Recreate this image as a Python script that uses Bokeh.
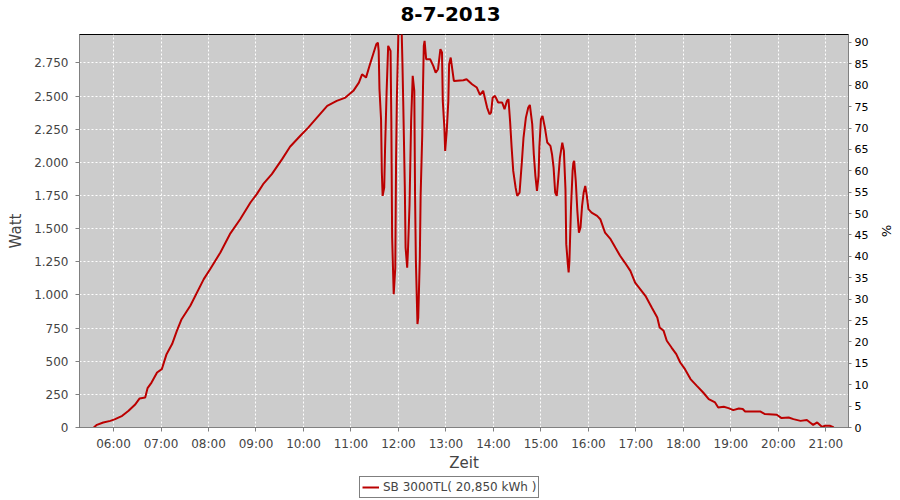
from bokeh.plotting import figure
from bokeh.models import Range1d, LinearAxis, FixedTicker, Legend, LegendItem, Label
from bokeh.layouts import column
from bokeh.embed import file_html
from bokeh.resources import INLINE

title_text = "8-7-2013"
series_name = "SB 3000TL( 20,850 kWh )"

times = ["05:35", "05:39", "05:47", "05:56", "06:02", "06:11", "06:19", "06:27", "06:33", "06:40",
         "06:43", "06:48", "06:55", "07:01", "07:07", "07:14", "07:20", "07:26", "07:37", "07:54",
         "08:02", "08:15", "08:27", "08:40", "08:53", "09:01", "09:09", "09:20", "09:33", "09:43",
         "09:56", "10:06", "10:17", "10:30", "10:42", "10:53", "11:03", "11:10", "11:14", "11:19",
         "11:24", "11:28", "11:32", "11:34", "11:35", "11:36", "11:38", "11:39", "11:40", "11:42",
         "11:43", "11:45", "11:47", "11:50", "11:51", "11:52", "11:54", "11:56", "11:57", "11:58",
         "12:00", "12:04", "12:05", "12:06", "12:08", "12:09", "12:11", "12:12", "12:14", "12:16",
         "12:18", "12:20", "12:21", "12:22", "12:24", "12:25", "12:27", "12:28", "12:30", "12:31",
         "12:32", "12:33", "12:35", "12:40", "12:44", "12:47", "12:50", "12:53", "12:55", "12:56",
         "12:58", "12:59", "13:01", "13:03", "13:04", "13:06", "13:10", "13:22", "13:26", "13:33",
         "13:39", "13:43", "13:47", "13:52", "13:55", "13:57", "13:59", "14:02", "14:06", "14:11",
         "14:14", "14:17", "14:19", "14:21", "14:23", "14:25", "14:28", "14:30", "14:33", "14:36",
         "14:38", "14:41", "14:44", "14:46", "14:49", "14:51", "14:53", "14:55", "14:57", "14:58",
         "15:00", "15:02", "15:05", "15:08", "15:12", "15:14", "15:16", "15:18", "15:20", "15:22",
         "15:24", "15:27", "15:29", "15:31", "15:32", "15:34", "15:35", "15:36", "15:38", "15:40",
         "15:41", "15:42", "15:44", "15:46", "15:48", "15:50", "15:52", "15:54", "15:56", "15:58",
         "16:00", "16:04", "16:11", "16:15", "16:21", "16:28", "16:34", "16:40", "16:46", "16:53",
         "16:59", "17:12", "17:20", "17:27", "17:30", "17:35", "17:39", "17:45", "17:51", "17:56",
         "18:02", "18:09", "18:17", "18:25", "18:32", "18:40", "18:44", "18:51", "18:57", "19:03",
         "19:10", "19:15", "19:18", "19:37", "19:43", "19:58", "20:04", "20:13", "20:19", "20:28",
         "20:36", "20:40", "20:44", "20:49", "20:55", "20:59", "21:05", "21:10"]

watts = [0, 20, 38, 50, 63, 88, 126, 171, 219, 226,
         297, 339, 415, 440, 553, 629, 729, 817, 918, 1119,
         1194, 1320, 1458, 1571, 1697, 1760, 1835, 1911, 2024, 2117,
         2200, 2262, 2337, 2426, 2463, 2488, 2539, 2601, 2664, 2639,
         2740, 2815, 2891, 2903, 2840, 2552, 2325, 1923, 1747, 1810,
         2086, 2526, 2878, 2840, 2312, 1433, 1006, 1206, 2036, 2488,
         3000, 3000, 2752, 2463, 1822, 1357, 1206, 1332, 1684, 2312,
         2652, 2539, 1734, 1257, 780, 829, 1282, 1747, 2199, 2564,
         2878, 2916, 2778, 2778, 2727, 2677, 2702, 2853, 2828, 2463,
         2262, 2086, 2237, 2463, 2740, 2790, 2614, 2619, 2627, 2589,
         2564, 2509, 2539, 2413, 2363, 2375, 2488, 2501, 2451, 2451,
         2401, 2463, 2476, 2312, 2111, 1935, 1810, 1747, 1772, 2011,
         2187, 2337, 2413, 2433, 2288, 2061, 1898, 1785, 1898, 2111,
         2325, 2350, 2262, 2149, 2124, 2061, 1960, 1772, 1747, 1885,
         2036, 2149, 2086, 1798, 1383, 1232, 1169, 1257, 1659, 1935,
         1998, 2011, 1860, 1634, 1470, 1508, 1672, 1772, 1822, 1747,
         1647, 1621, 1596, 1571, 1470, 1420, 1357, 1295, 1244, 1181,
         1093, 993, 905, 829, 754, 729, 654, 603, 553, 490,
         440, 365, 314, 264, 214, 189, 151, 156, 146, 131,
         143, 139, 121, 121, 101, 96, 71, 75, 63, 50,
         56, 38, 20, 38, 5, 13, 13, 0]

x_tick_labels = ["06:00", "07:00", "08:00", "09:00", "10:00", "11:00", "12:00", "13:00",
                 "14:00", "15:00", "16:00", "17:00", "18:00", "19:00", "20:00", "21:00"]
watt_ticks = [0, 250, 500, 750, 1000, 1250, 1500, 1750, 2000, 2250, 2500, 2750]
watt_tick_labels = ["0", "250", "500", "750", "1.000", "1.250", "1.500", "1.750",
                    "2.000", "2.250", "2.500", "2.750"]
pct_ticks = [0, 5, 10, 15, 20, 25, 30, 35, 40, 45, 50, 55, 60, 65, 70, 75, 80, 85, 90]


def to_min(s):
    h, m = s.split(":")
    return int(h) * 60 + int(m)


xs = [to_min(t) for t in times]
xt = [to_min(t) for t in x_tick_labels]

FONT = "DejaVu Sans"
GRAY = "#444444"
RED = "#bb0000"


def blank_fig(h):
    f = figure(width=900, height=h, output_backend="svg", toolbar_location=None,
               x_range=Range1d(0, 1), y_range=Range1d(0, 1),
               x_axis_location=None, y_axis_location=None, min_border=0)
    f.grid.visible = False
    f.outline_line_color = None
    f.background_fill_color = "white"
    f.border_fill_color = "white"
    return f


# ---- title strip (frame is aligned with the main frame, x from 79) ----
pt = blank_fig(30)
pt.add_layout(Label(x=371, y=17, x_units="screen", y_units="screen", text=title_text,
                    text_align="center", text_baseline="middle",
                    text_font=FONT, text_font_size="20px", text_font_style="bold",
                    text_color="black"))

# ---- main chart ----
p = figure(width=900, height=446, output_backend="svg", toolbar_location=None,
           x_range=Range1d(317, 1288.6), y_range=Range1d(0, 2964),
           min_border_left=79, min_border_right=52, min_border_top=4, min_border_bottom=49)

p.background_fill_color = "#cccccc"
p.border_fill_color = "white"
p.outline_line_color = "black"
p.outline_line_width = 1

ya = p.left[0]
ya.ticker = FixedTicker(ticks=watt_ticks)
ya.major_label_overrides = {t: l for t, l in zip(watt_ticks, watt_tick_labels)}
ya.axis_label = "Watt"
xa = p.below[0]
xa.ticker = FixedTicker(ticks=xt)
xa.major_label_overrides = {t: l for t, l in zip(xt, x_tick_labels)}
xa.axis_label = "Zeit"

for ax in (xa, ya):
    ax.axis_line_color = "#808080"
    ax.major_tick_line_color = "#808080"
    ax.minor_tick_line_color = None
    ax.major_tick_in = 0
    ax.major_tick_out = 4
    ax.major_label_text_font = FONT
    ax.major_label_text_font_size = "12px"
    ax.major_label_text_color = GRAY
    ax.axis_label_text_font = FONT
    ax.axis_label_text_font_size = "15px"
    ax.axis_label_text_font_style = "normal"
    ax.axis_label_text_color = GRAY
ya.major_label_standoff = 7
ya.axis_label_standoff = 6
xa.major_label_standoff = 5
xa.axis_label_standoff = 0

p.extra_y_ranges = {"pct": Range1d(0, 91.87)}
ra = LinearAxis(y_range_name="pct", ticker=FixedTicker(ticks=pct_ticks), axis_label="%")
ra.axis_line_color = "#808080"
ra.major_tick_line_color = "#808080"
ra.minor_tick_line_color = None
ra.major_tick_in = 0
ra.major_tick_out = 3
ra.major_label_standoff = 3
ra.major_label_text_font = FONT
ra.major_label_text_font_size = "11px"
ra.major_label_text_color = "black"
ra.axis_label_text_font = FONT
ra.axis_label_text_font_size = "13px"
ra.axis_label_text_font_style = "normal"
ra.axis_label_text_color = "black"
ra.axis_label_standoff = 8
p.add_layout(ra, "right")

for g in (p.xgrid, p.ygrid):
    g.grid_line_color = "white"
    g.grid_line_dash = "2 2"
    g.grid_line_width = 1

p.line(xs, watts, line_color=RED, line_width=2)

# ---- legend strip (its line proxy lies outside the strip's ranges) ----
pl = blank_fig(24)
lr = pl.line(xs, watts, line_color=RED, line_width=2)
legend = Legend(items=[LegendItem(label=series_name, renderers=[lr])],
                location=(280, 2), orientation="horizontal",
                border_line_color="black", border_line_width=1,
                background_fill_color="white", background_fill_alpha=1,
                padding=2, margin=0, spacing=0,
                glyph_width=17, glyph_height=16, label_height=16,
                label_standoff=4,
                label_text_font=FONT, label_text_font_size="12px",
                label_text_color=GRAY)
pl.add_layout(legend)

layout = column(pt, p, pl, spacing=0)
open("out.html", "w").write(file_html(layout, INLINE))
